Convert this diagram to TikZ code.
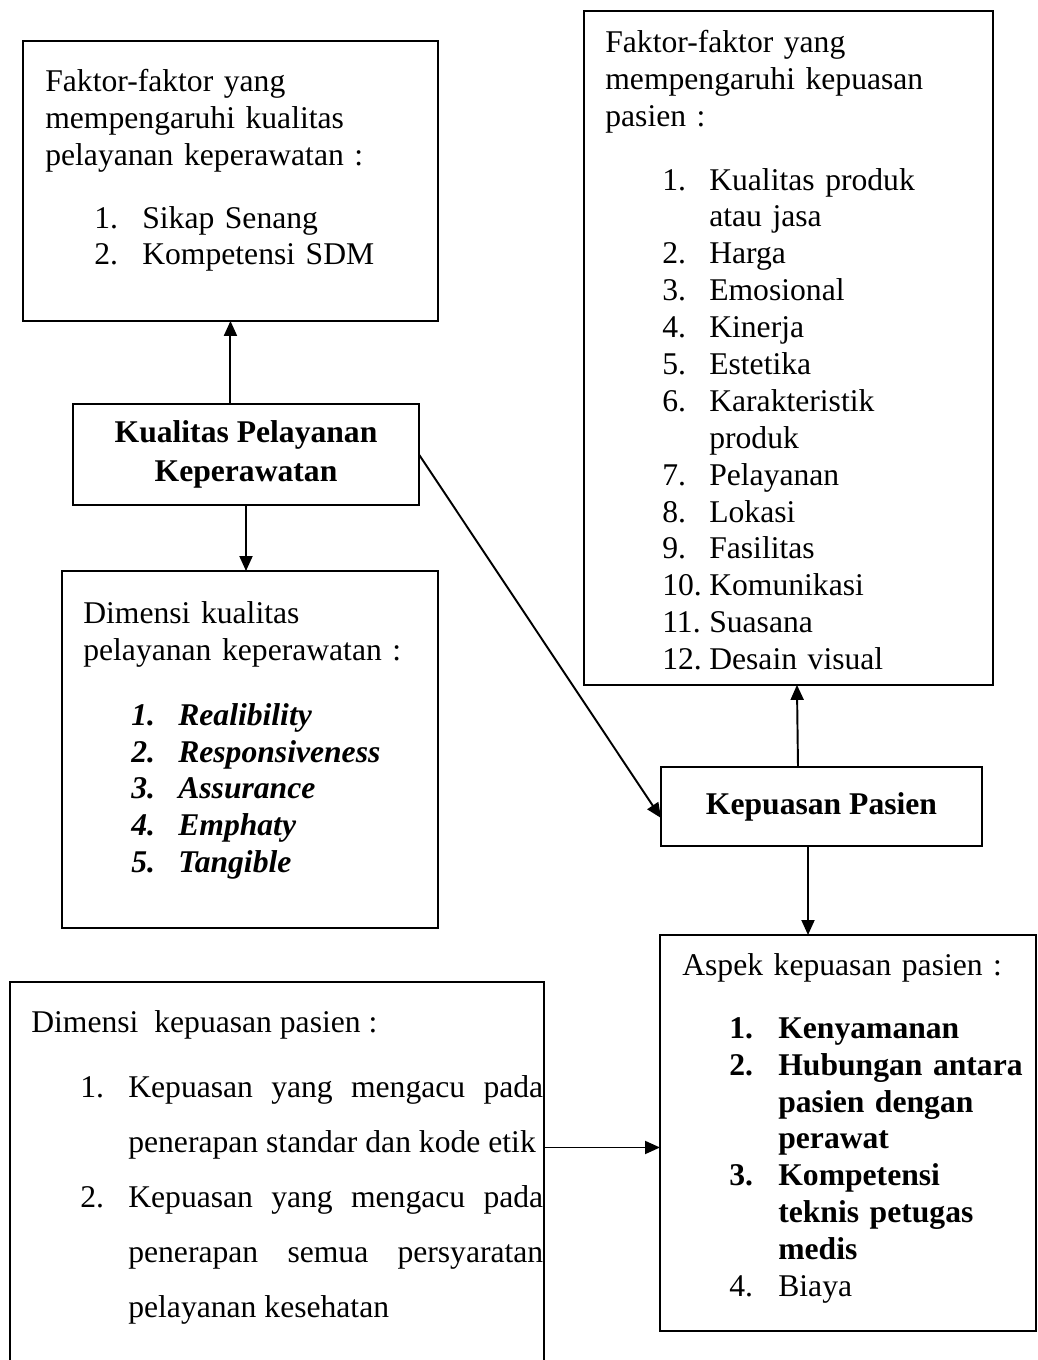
\documentclass[tikz,border=0pt]{standalone}
\usepackage{fontspec}
\setmainfont{Liberation Serif}
\usetikzlibrary{arrows.meta}
\usetikzlibrary{positioning,calc}

\newlength{\numw}
\newcommand{\nitem}[2]{\par\hangindent=\numw\hangafter=1\noindent\makebox[\numw][l]{#1}#2\par}
\newcommand{\firstln}{\rule{0pt}{0.45cm}}

\tikzset{
   bx/.style={draw, line width=1.3pt, anchor=north west, inner sep=0pt, outer sep=0pt},
   txt/.style={anchor=north west, inner sep=0pt, align=left, font={\fontsize{18}{21}\selectfont}},
   arr/.style={line width=1.1pt, -{Triangle[length=0.3cm, width=0.26cm]}}
}

\begin{document}
\begin{tikzpicture}[x=0.02cm, y=-0.02cm]
      \useasboundingbox (0,0) rectangle (1038,1360);
      \clip (0,0) rectangle (1038,1360);

      % boxes
      \node[bx, minimum width=8.30cm, minimum height=5.60cm] (ffk) at (23,41) {};
      \node[bx, minimum width=8.18cm, minimum height=13.48cm] (ffp) at (584,11) {};
      \node[bx, anchor=center, minimum width=6.92cm, minimum height=2.02cm, align=center,
            font={\fontsize{18}{22}\selectfont\bfseries}] (kpk) at (246,454.5) {Kualitas Pelayanan\\Keperawatan};
      \node[bx, minimum width=7.52cm, minimum height=7.14cm] (dkpk) at (62,571) {};
      \node[bx, anchor=center, minimum width=6.42cm, minimum height=1.58cm,
            font={\fontsize{18}{22}\selectfont\bfseries}] (kp) at (821.5,806.5) {Kepuasan Pasien};
      \node[bx, minimum width=7.52cm, minimum height=7.92cm] (aspek) at (660,935) {};
      \node[bx, minimum width=10.68cm, minimum height=7.96cm] (dimkp) at (10,982) {};

      % texts
      \node[txt, text width=7.8cm] (ffkTxt) at (45,68.5) {\firstln Faktor-faktor yang\\
         mempengaruhi kualitas\\ pelayanan keperawatan :\par\vspace{0.52cm}
         \setlength{\numw}{0.96cm}\leftskip=0.98cm
         \nitem{1.}{Sikap Senang}
         \nitem{2.}{Kompetensi SDM}};

      \node[txt, text width=7.7cm] (ffpTxt) at (605,29.5) {\firstln Faktor-faktor yang\\
         mempengaruhi kepuasan\\ pasien :\par\vspace{0.54cm}
         \setlength{\numw}{0.94cm}\leftskip=1.14cm
         \nitem{1.}{Kualitas produk}
         \nitem{}{atau jasa}
         \nitem{2.}{Harga}
         \nitem{3.}{Emosional}
         \nitem{4.}{Kinerja}
         \nitem{5.}{Estetika}
         \nitem{6.}{Karakteristik}
         \nitem{}{produk}
         \nitem{7.}{Pelayanan}
         \nitem{8.}{Lokasi}
         \nitem{9.}{Fasilitas}
         \nitem{10.}{Komunikasi}
         \nitem{11.}{Suasana}
         \nitem{12.}{Desain visual}};

      \node[txt, text width=7.0cm] (dkpkTxt) at (83,600.5) {\firstln Dimensi kualitas\\
         pelayanan keperawatan :\par\vspace{0.56cm}
         \setlength{\numw}{0.94cm}\leftskip=0.96cm
         \bfseries\itshape
         \nitem{1.}{Realibility}
         \nitem{2.}{Responsiveness}
         \nitem{3.}{Assurance}
         \nitem{4.}{Emphaty}
         \nitem{5.}{Tangible}};

      \node[txt, text width=7.0cm] (aspekTxt) at (682,952.5) {\firstln Aspek kepuasan pasien :\par\vspace{0.52cm}
         \setlength{\numw}{0.98cm}\leftskip=0.94cm
         \bfseries
         \nitem{1.}{Kenyamanan}
         \nitem{2.}{Hubungan antara}
         \nitem{}{pasien dengan}
         \nitem{}{perawat}
         \nitem{3.}{Kompetensi}
         \nitem{}{teknis petugas}
         \nitem{}{medis}
         \mdseries
         \nitem{4.}{Biaya}};

      \node[txt, text width=10.24cm, align=justify, font={\fontsize{18}{31.3}\selectfont}] (dimkpTxt)
         at (31,1009.5) {\firstln Dimensi\ \ kepuasan pasien :\par\vspace{0.2cm}
         \tolerance=10000
         \setlength{\numw}{0.96cm}\leftskip=0.98cm
         \nitem{1.}{Kepuasan yang mengacu pada\linebreak penerapan standar dan kode etik}
         \nitem{2.}{Kepuasan yang mengacu pada\linebreak penerapan semua persyaratan\linebreak pelayanan kesehatan}};

      % arrows
      \draw[arr] (kpk.north -| ffk.south) -- (ffk.south);
      \draw[arr] (kpk.south) -- (kpk.south |- dkpk.north);
      \draw[arr] (kpk.east) -- ([yshift=-0.23cm]kp.west);
      \draw[arr] ([xshift=-0.47cm]kp.north) -- ([xshift=0.17cm]ffp.south);
      \coordinate (kpS) at ([xshift=-0.27cm]kp.south);
      \draw[arr] (kpS) -- (kpS |- aspek.north);
      \coordinate (dimE) at ([yshift=0.67cm]dimkp.east);
      \draw[arr] (dimE) -- (dimE -| aspek.west);
\end{tikzpicture}
\end{document}
